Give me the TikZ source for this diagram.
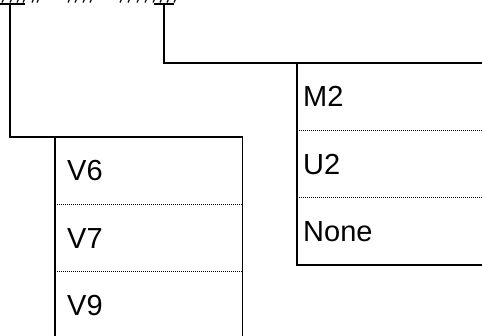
\documentclass[tikz,border=0pt]{standalone}
\usepackage{fontspec}
\setmainfont{Liberation Sans}
\usetikzlibrary{positioning}

\newcommand{\rowfont}{\fontsize{29}{34}\selectfont}

\begin{document}
\begin{tikzpicture}[
    x=1pt, y=-1pt,
    node distance=0pt,
    cellL/.style={anchor=north west, minimum height=67pt, text width=163pt, inner xsep=12pt, inner ysep=0pt, align=left, font=\rowfont},
    cellR/.style={anchor=north west, minimum height=67pt, text width=218pt, inner xsep=6pt, inner ysep=0pt, align=left, font=\rowfont},
    frame/.style={draw, line width=1.4pt},
    sep/.style={draw, line width=1pt, dash pattern=on 1.2pt off 0.8pt},
    link/.style={draw, line width=1.4pt},
    tick/.style={draw, line width=1.2pt}
]
    \useasboundingbox (0,0) rectangle (482,336);
    \clip (0,0) rectangle (482,336);

    % Left table
    \node [cellL] (v6) at (55,137) {V6};
    \node [cellL, below=of v6] (v7) {V7};
    \node [cellL, below=of v7] (v9) {V9};

    % Right table
    \node [cellR] (m2) at (297,63) {M2};
    \node [cellR, below=of m2] (u2) {U2};
    \node [cellR, below=of u2] (none) {None};

    % Outlines
    \draw [frame] (v9.south west) -- (v6.north west) -- (v6.north east) -- (v9.south east);
    \draw [frame] (m2.north east) -- (m2.north west) -- (none.south west) -- (none.south east);
    \draw [sep] (v6.south west) -- (v6.south east);
    \draw [sep] (v7.south west) -- (v7.south east);
    \draw [sep] (m2.south west) -- (m2.south east);
    \draw [sep] (u2.south west) -- (u2.south east);

    % Cut-off heading at the top
    \coordinate (vtap) at (10,4);
    \coordinate (mtap) at (164,4);
    \draw [link] (0,4) -- (25,4);
    \draw [link] (154,4) -- (174,4);
    \foreach \x in {2,10,17,23,32,37,68,75,83,90,120,128,137,145,153,160,167,174}
        \draw [tick] (\x,2.5) -- ++(1.2,-2.5);

    % Connectors
    \draw [link] (vtap) |- (v6.north west);
    \draw [link] (mtap) |- (m2.north west);

\end{tikzpicture}
\end{document}
